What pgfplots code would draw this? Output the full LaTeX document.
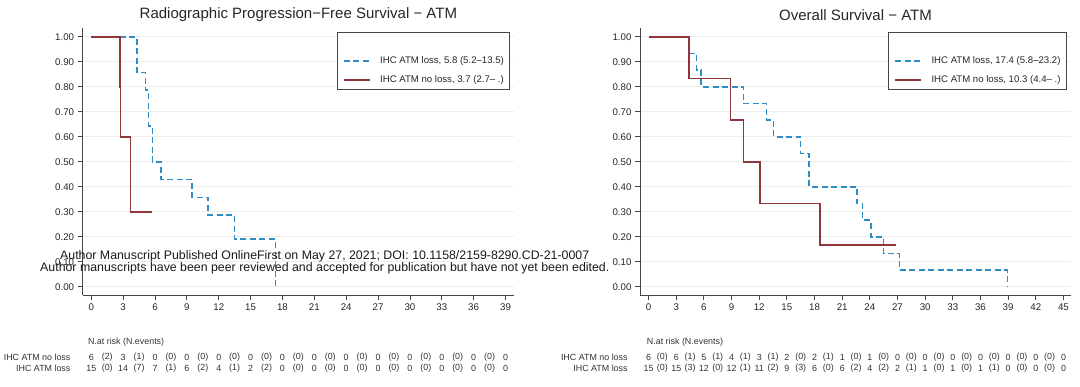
\documentclass[border=0pt]{standalone}
\usepackage{pgfplots}
\pgfplotsset{compat=1.18}
\usepackage{fontspec}
\setmainfont{Liberation Sans}
\definecolor{kmblue}{RGB}{48,140,196}
\definecolor{kmred}{RGB}{144,53,59}
\definecolor{axgray}{RGB}{70,70,70}

\pgfplotsset{
  kmstyle/.style={
    scale only axis,
    height=266.7pt,
    axis lines=left,
    axis line style={-, axgray, line width=0.8pt},
    tick align=outside,
    major tick length=5pt,
    tick style={axgray, line width=0.8pt},
    ymin=-0.033, ymax=1.034,
    ytick={0,0.1,0.2,0.3,0.4,0.5,0.6,0.7,0.8,0.9,1.0},
    /pgf/number format/assume math mode=true,
    yticklabel style={/pgf/number format/.cd, fixed, fixed zerofill, precision=2},
    tick label style={font=\fontsize{9.7}{11}\selectfont, text=black!85},
    ymajorgrids,
    grid style={black!7, line width=0.8pt},
    legend cell align=left,
    legend style={draw=axgray, line width=0.8pt, anchor=north east,
      font=\fontsize{9.6}{11}\selectfont, text=black!85,
      nodes={inner sep=0pt, text height=7pt, text depth=2pt},
      column sep=9.7pt, row sep=10pt, inner xsep=6pt, inner ysep=5pt},
    legend image code/.code={\draw[#1] (0pt,0pt) -- (26pt,0pt);},
  },
  lossstyle/.style={const plot, color=kmblue, line width=1.6pt, dash pattern=on 6pt off 3.5pt},
  nolossstyle/.style={const plot, color=kmred, line width=1.6pt},
}

\begin{document}
\begin{tikzpicture}
\path[use as bounding box] (0pt,0pt) rectangle (1080pt,386pt);

% ---------------- Left panel: rPFS ----------------
\begin{axis}[kmstyle, at={(82.6pt,91pt)}, anchor=south west, width=431.5pt,
  xmin=-0.82, xmax=39.81, xtick={0,3,...,39},
  legend style={at={(0.991,0.985)}}]
\addlegendimage{empty legend}
\addlegendentry{}
\addplot[lossstyle] coordinates {
 (0,1) (4.3,0.857) (5.1,0.786) (5.4,0.643) (5.75,0.5) (6.55,0.429)
 (9.5,0.357) (11.0,0.286) (13.5,0.19) (17.35,0)
};
\addlegendentry{IHC ATM loss, 5.8 (5.2–13.5)}
\addplot[nolossstyle] coordinates {
 (0,1) (2.7,0.8) (2.75,0.6) (3.7,0.3) (5.75,0.3)
};
\addlegendentry{IHC ATM no loss, 3.7 (2.7– .)}
\end{axis}

% ---------------- Right panel: OS ----------------
\begin{axis}[kmstyle, at={(640pt,91pt)}, anchor=south west, width=431pt,
  xmin=-0.93, xmax=45.82, xtick={0,3,...,45},
  legend style={at={(0.9905,0.985)}}]
\addlegendimage{empty legend}
\addlegendentry{}
\addplot[lossstyle] coordinates {
 (0,1) (4.4,0.933) (5.2,0.867) (5.7,0.8) (10.3,0.733) (12.8,0.667)
 (13.55,0.6) (16.5,0.533) (17.4,0.4) (22.6,0.333) (23.2,0.267)
 (24.1,0.2) (25.5,0.133) (27.2,0.067) (38.95,0)
};
\addlegendentry{IHC ATM loss, 17.4 (5.8–23.2)}
\addplot[nolossstyle] coordinates {
 (0,1) (4.4,0.833) (8.9,0.667) (10.3,0.5) (12.1,0.333) (18.6,0.167) (26.85,0.167)
};
\addlegendentry{IHC ATM no loss, 10.3 (4.4– .)}
\end{axis}

% ---------------- Titles ----------------
\node[font=\fontsize{15}{17}\selectfont, text=black!85] at (298.4pt,371pt) {Radiographic Progression−Free Survival − ATM};
\node[font=\fontsize{15}{17}\selectfont, text=black!85] at (855.5pt,371pt) {Overall Survival − ATM};

% ---------------- Risk tables ----------------
\begin{scope}[x=1pt, y=1pt, every node/.style={font=\fontsize{8.9}{10}\selectfont, text=black!80, inner sep=0pt}]
% left
\node[anchor=west] at (87.8,43.7) {N.at risk (N.events)};
\node[anchor=east] at (70.6,28.7) {IHC ATM no loss};
\node[anchor=east] at (70.6,17.7) {IHC ATM loss};
\foreach \v [count=\i from 0] in {6,3,0,0,0,0,0,0,0,0,0,0,0,0}
  \node at ({91.3+31.86*\i},28.7) {\v};
\foreach \v [count=\i from 0] in {2,1,0,0,0,0,0,0,0,0,0,0,0}
  \node at ({91.3+31.86*\i+15.93},28.7) {(\v)};
\foreach \v [count=\i from 0] in {15,14,7,6,4,2,0,0,0,0,0,0,0,0}
  \node at ({91.3+31.86*\i},17.7) {\v};
\foreach \v [count=\i from 0] in {0,7,1,2,1,2,0,0,0,0,0,0,0}
  \node at ({91.3+31.86*\i+15.93},17.7) {(\v)};
% right
\node[anchor=west] at (646.7,43.7) {N.at risk (N.events)};
\node[anchor=east] at (627.8,28.7) {IHC ATM no loss};
\node[anchor=east] at (627.8,17.7) {IHC ATM loss};
\foreach \v [count=\i from 0] in {6,6,5,4,3,2,2,1,1,0,0,0,0,0,0,0}
  \node at ({648.6+27.66*\i},28.7) {\v};
\foreach \v [count=\i from 0] in {0,1,1,1,1,0,1,0,0,0,0,0,0,0,0}
  \node at ({648.6+27.66*\i+13.83},28.7) {(\v)};
\foreach \v [count=\i from 0] in {15,15,12,12,11,9,6,6,4,2,1,1,1,0,0,0}
  \node at ({648.6+27.66*\i},17.7) {\v};
\foreach \v [count=\i from 0] in {0,3,0,1,2,3,0,2,2,1,0,0,1,0,0}
  \node at ({648.6+27.66*\i+13.83},17.7) {(\v)};

% ---------------- Watermark ----------------
\node[font=\fontsize{12.35}{13}\selectfont, text=black!90] at (324.7,130) {Author Manuscript Published OnlineFirst on May 27, 2021; DOI: 10.1158/2159-8290.CD-21-0007};
\node[font=\fontsize{12.35}{13}\selectfont, text=black!90] at (324.8,117.7) {Author manuscripts have been peer reviewed and accepted for publication but have not yet been edited.};
\end{scope}
\end{tikzpicture}
\end{document}
